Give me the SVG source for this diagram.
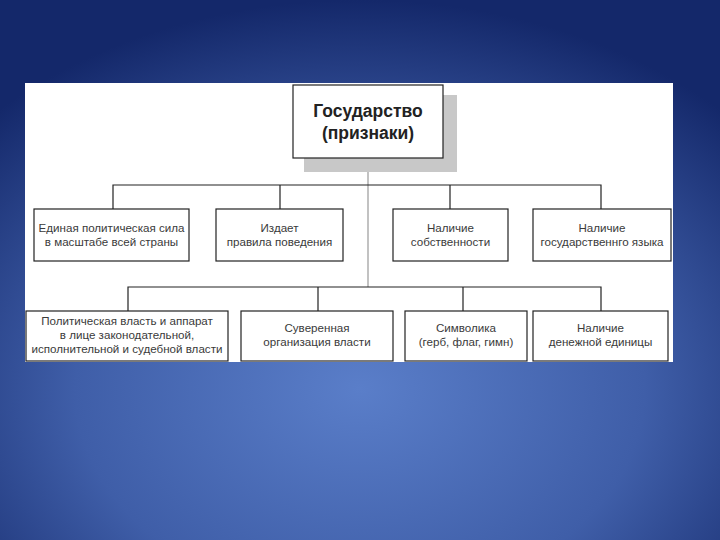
<svg xmlns="http://www.w3.org/2000/svg" width="720" height="540" viewBox="0 0 720 540">
<defs>
<radialGradient id="bg" cx="50%" cy="72%" r="72%" fx="50%" fy="72%">
<stop offset="0" stop-color="#5a7ec9"/>
<stop offset="0.55" stop-color="#3f5ea8"/>
<stop offset="1" stop-color="#14286a"/>
</radialGradient>
<style>
.box{fill:#fff;stroke:#222;stroke-width:1.2}
.t{font-family:"Liberation Sans",Arial,sans-serif;font-size:11.6px;fill:#3a3a3a;text-anchor:middle}
.title{font-family:"Liberation Sans",Arial,sans-serif;font-size:17.5px;font-weight:bold;fill:#222;text-anchor:middle}
.ln{fill:none;stroke:#222;stroke-width:1.2}
</style>
</defs>
<rect width="720" height="540" fill="url(#bg)"/>
<rect x="25" y="83" width="648" height="279" fill="#fff"/>
<g id="connectors">
<line x1="368" y1="158" x2="368" y2="287" stroke="#999" stroke-width="1.2"/>
<path class="ln" d="M113 209 V185 H601 V209 M280 185 V209 M450 185 V209"/>
<path class="ln" d="M128 311 V287 H601 V311 M318 287 V311 M463 287 V311"/>
</g>
<g id="root">
<rect x="304" y="95" width="153" height="77" fill="#c8c8c8"/>
<rect class="box" x="293" y="85" width="150" height="73"/>
<text class="title" x="368" y="117">Государство</text>
<text class="title" x="368" y="139">(признаки)</text>
</g>
<g id="n1"><rect class="box" x="34" y="209" width="155" height="52"/>
<text class="t" x="111.5" y="232">Единая политическая сила</text><text class="t" x="111.5" y="246">в масштабе всей страны</text></g>
<g id="n2"><rect class="box" x="216" y="209" width="127" height="52"/>
<text class="t" x="279.5" y="232">Издает</text><text class="t" x="279.5" y="246">правила поведения</text></g>
<g id="n3"><rect class="box" x="393" y="209" width="115" height="52"/>
<text class="t" x="450.5" y="232">Наличие</text><text class="t" x="450.5" y="246">собственности</text></g>
<g id="n4"><rect class="box" x="533" y="209" width="138" height="52"/>
<text class="t" x="602" y="232">Наличие</text><text class="t" x="602" y="246">государственнго языка</text></g>
<g id="n5"><rect class="box" x="26" y="311" width="202" height="50"/>
<text class="t" x="127" y="325">Политическая власть и аппарат</text><text class="t" x="127" y="339">в лице законодательной,</text><text class="t" x="127" y="353">исполнительной и судебной власти</text></g>
<g id="n6"><rect class="box" x="241" y="311" width="152" height="50"/>
<text class="t" x="317" y="332">Суверенная</text><text class="t" x="317" y="346">организация власти</text></g>
<g id="n7"><rect class="box" x="405" y="311" width="122" height="50"/>
<text class="t" x="466" y="332">Символика</text><text class="t" x="466" y="346">(герб, флаг, гимн)</text></g>
<g id="n8"><rect class="box" x="533" y="311" width="135" height="50"/>
<text class="t" x="600.5" y="332">Наличие</text><text class="t" x="600.5" y="346">денежной единицы</text></g>
</svg>
